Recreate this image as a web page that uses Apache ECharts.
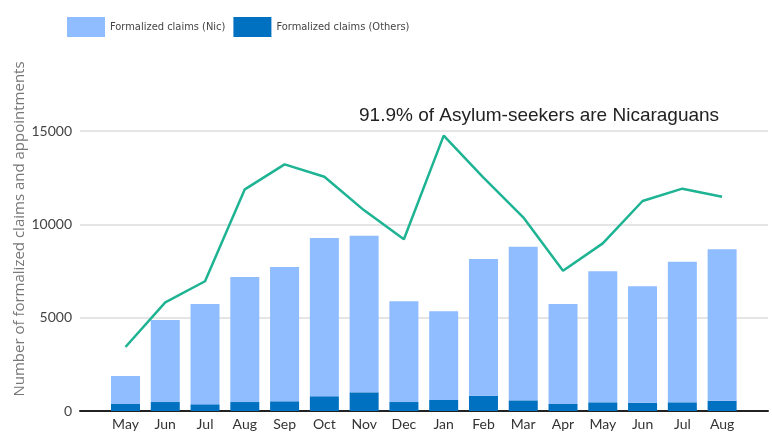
<!DOCTYPE html>
<html>
<head>
<meta charset="utf-8">
<script src="https://cdn.jsdelivr.net/npm/echarts@6/dist/echarts.min.js"></script>
<style>
  html, body { margin: 0; padding: 0; background: #fff; }
  #chart { width: 772px; height: 432px; }
</style>
</head>
<body>
<div id="chart"></div>
<script>
// months, May of one year to Aug of the next
var months = ['May', 'Jun', 'Jul', 'Aug', 'Sep', 'Oct', 'Nov', 'Dec', 'Jan', 'Feb', 'Mar', 'Apr', 'May', 'Jun', 'Jul', 'Aug'];
var claimsNic = [1500, 4400, 5370, 6700, 7190, 8480, 8390, 5395, 4750, 7320, 8230, 5355, 7015, 6235, 7535, 8110];
var claimsOthers = [375, 480, 360, 480, 520, 790, 1000, 480, 590, 820, 570, 375, 465, 445, 465, 550];
var appointments = [3430, 5820, 6950, 11875, 13215, 12550, 10750, 9200, 14750, 12500, 10375, 7515, 8980, 11250, 11910, 11480];
var yTicks = [0, 5000, 10000, 15000];

var chart = echarts.init(document.getElementById('chart'));

var hiddenAxis = {
  axisLine: { show: false }, axisTick: { show: false }, axisLabel: { show: false }, splitLine: { show: false }
};

var option = {
  animation: false,
  backgroundColor: '#fff',
  title: {
    text: '91.9% of Asylum-seekers are Nicaraguans',
    left: 354,
    top: 101,
    textStyle: { fontFamily: 'Liberation Sans', fontSize: 19, fontWeight: 'normal', color: '#222' }
  },
  legend: {
    left: 62,
    top: 12,
    itemWidth: 38,
    itemHeight: 20,
    itemGap: 8,
    icon: 'rect',
    data: ['Formalized claims (Nic)', 'Formalized claims (Others)'],
    textStyle: { fontFamily: 'Liberation Sans Narrow, DejaVu Sans Condensed, sans-serif', fontSize: 11, color: '#444' }
  },
  // grid 0 = gridlines and y labels, grid 1 = the data (inset like the original), grid 2 = only the y name
  grid: [
    { left: 80, right: 4, top: 131, bottom: 21, outerBoundsMode: 'none' },
    { left: 105.6, right: 30, top: 131, bottom: 21, outerBoundsMode: 'none' },
    { left: 80, right: 4, top: 65, bottom: 39, outerBoundsMode: 'none' }
  ],
  xAxis: [
    {
      gridIndex: 0, type: 'value', min: 0, max: 1,
      axisLine: { show: true, lineStyle: { color: '#222', width: 2 } },
      axisTick: { show: false }, axisLabel: { show: false }, splitLine: { show: false }
    },
    {
      gridIndex: 1, type: 'category', data: months,
      axisLine: { show: false }, axisTick: { show: false },
      axisLabel: { fontFamily: 'Lato', fontSize: 14, color: '#333', margin: 6 }
    },
    Object.assign({ gridIndex: 2, type: 'value', min: 0, max: 1 }, hiddenAxis)
  ],
  yAxis: [
    {
      gridIndex: 0, type: 'value', min: yTicks[0], max: yTicks[yTicks.length - 1], interval: 5000,
      axisLine: { show: false }, axisTick: { show: false },
      axisLabel: { fontFamily: 'Lato', fontSize: 14, color: '#444', margin: 8, formatter: function (v) { return String(v); } },
      splitLine: { lineStyle: { color: '#dcdcdc', width: 1.5 } }
    },
    {
      gridIndex: 1, type: 'value', min: yTicks[0], max: yTicks[yTicks.length - 1], show: false
    },
    Object.assign({
      gridIndex: 2, type: 'value', min: 0, max: 1,
      name: 'Number of formalized claims and appointments',
      nameLocation: 'middle',
      nameGap: 53,
      nameTextStyle: { fontFamily: 'Open Sans', fontSize: 15, color: '#777' }
    }, hiddenAxis)
  ],
  series: [
    {
      name: 'Formalized claims (Others)', type: 'bar', stack: 'claims',
      xAxisIndex: 1, yAxisIndex: 1, barWidth: 29,
      itemStyle: { color: '#0070c0' },
      data: claimsOthers
    },
    {
      name: 'Formalized claims (Nic)', type: 'bar', stack: 'claims',
      xAxisIndex: 1, yAxisIndex: 1, barWidth: 29,
      itemStyle: { color: '#8fbdff' },
      data: claimsNic
    },
    {
      name: 'Appointments', type: 'line',
      xAxisIndex: 1, yAxisIndex: 1,
      symbol: 'none',
      lineStyle: { color: '#1db393', width: 2.5 },
      data: appointments,
      z: 5
    }
  ]
};

chart.setOption(option);
</script>
</body>
</html>
